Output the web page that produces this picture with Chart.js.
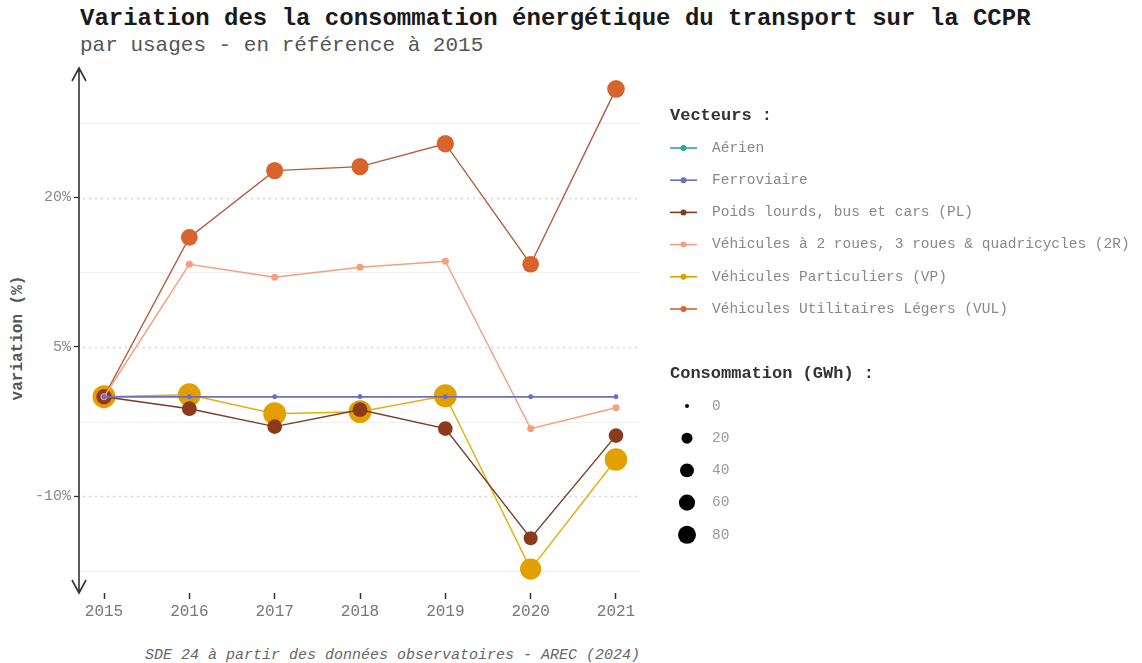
<!DOCTYPE html>
<html>
<head>
<meta charset="utf-8">
<script src="https://cdn.jsdelivr.net/npm/chart.js@4.4.1/dist/chart.umd.min.js"></script>
<style>
  html, body { margin: 0; padding: 0; background: #fff; }
  body { width: 1142px; height: 663px; position: relative; overflow: hidden; font-family: 'Courier New', 'Nimbus Mono PS', 'FreeMono', 'Liberation Mono', 'DejaVu Sans Mono', monospace; }
  #chart { position: absolute; left: 0; top: 0; }
  .txt { position: absolute; white-space: nowrap; }
  #title { left: 80px; top: 6px; font-size: 24px; line-height: 26px; font-weight: bold; color: #1a1a1a; }
  #subtitle { left: 80px; top: 34px; font-size: 21px; line-height: 24px; color: #555; }
  #caption { right: 502px; top: 647px; font-size: 15px; line-height: 18px; font-style: italic; color: #666; }
  #ytitle { left: 18px; top: 338px; font-size: 16px; font-weight: bold; color: #555; transform: translate(-50%, -50%) rotate(-90deg); }
</style>
</head>
<body>
<div class="txt" id="title">Variation des la consommation énergétique du transport sur la CCPR</div>
<div class="txt" id="subtitle">par usages - en référence à 2015</div>
<div class="txt" id="ytitle">variation (%)</div>
<div class="txt" id="caption">SDE 24 à partir des données observatoires - AREC (2024)</div>
<canvas id="chart" width="1142" height="663"></canvas>
<script>
// years
const years = [2015, 2016, 2017, 2018, 2019, 2020, 2021];

// variation vs 2015 (%)
const varAerien = [0, 0, 0, 0, 0, 0, 0];
const varFerro = [0, 0, 0, 0, 0, 0, 0];
const varPL = [0, -1.2, -3.0, -1.3, -3.2, -14.2, -3.9];
const var2R = [0, 13.3, 12.0, 13.0, 13.6, -3.2, -1.1];
const varVP = [0, 0.2, -1.7, -1.5, 0.1, -17.3, -6.3];
const varVUL = [0, 16.0, 22.7, 23.1, 25.4, 13.3, 30.9];

// consumption (GWh) -> point size
const consAerien = [0, 0, 0, 0, 0, 0, 0];
const consFerro = [0.3, 0.3, 0.3, 0.3, 0.3, 0.3, 0.3];
const consPL = [48, 47, 46, 47, 46, 41, 46];
const cons2R = [3.6, 4.1, 4.0, 4.1, 4.1, 3.5, 3.6];
const consVP = [147, 147, 145, 145, 147, 122, 138];
const consVUL = [58, 67, 71, 71, 73, 66, 76];

const seriesNames = [
    'Aérien',
    'Ferroviaire',
    'Poids lourds, bus et cars (PL)',
    'Véhicules à 2 roues, 3 roues & quadricycles (2R)',
    'Véhicules Particuliers (VP)',
    'Véhicules Utilitaires Légers (VUL)'
];
const pointColors = ['#2ca6a4', '#6a6fbf', '#8c3a1c', '#f4a07e', '#e2a000', '#d8632c'];
const lineColors = ['#2ca6a4', '#6a6fbf', '#7a3a26', '#f4a07e', '#e2ae10', '#b55a3c'];

const sizeBreaks = [0, 20, 40, 60, 80];
const yMajor = [-10, 5, 20];
const yMinor = [-17.5, -2.5, 12.5, 27.5];

function radiusFor(v) {
    return 2 + 7 * Math.sqrt(v / 80);
}

const seriesVar = [varAerien, varFerro, varPL, var2R, varVP, varVUL];
const seriesCons = [consAerien, consFerro, consPL, cons2R, consVP, consVUL];
const drawOrder = [2, 1, 4, 3, 6, 5];

const datasets = seriesNames.map((name, i) => ({
    label: name,
    data: years.map((y, j) => ({ x: y, y: seriesVar[i][j] })),
    borderColor: lineColors[i],
    backgroundColor: pointColors[i],
    pointBackgroundColor: pointColors[i],
    pointBorderWidth: 0,
    borderWidth: 1.4,
    pointRadius: (ctx) => radiusFor(seriesCons[i][ctx.dataIndex]),
    pointHoverRadius: (ctx) => radiusFor(seriesCons[i][ctx.dataIndex]),
    order: drawOrder[i],
}));

const MONO = "'Courier New', 'Nimbus Mono PS', 'FreeMono', 'Liberation Mono', 'DejaVu Sans Mono', monospace";

const plotDeco = {
    id: 'plotDeco',
    beforeDatasetsDraw(chart) {
        const { ctx, chartArea: a, scales: { y } } = chart;
        ctx.save();
        // minor grid
        ctx.strokeStyle = '#efefef';
        ctx.lineWidth = 1;
        yMinor.forEach((v) => {
            const py = Math.round(y.getPixelForValue(v)) + 0.5;
            ctx.beginPath();
            ctx.moveTo(a.left, py);
            ctx.lineTo(a.right, py);
            ctx.stroke();
        });
        // major grid, dotted
        ctx.strokeStyle = '#d4d4d4';
        ctx.lineWidth = 1.3;
        ctx.setLineDash([2, 4]);
        yMajor.forEach((v) => {
            const py = Math.round(y.getPixelForValue(v)) + 0.5;
            ctx.beginPath();
            ctx.moveTo(a.left + 4, py);
            ctx.lineTo(a.right, py);
            ctx.stroke();
        });
        ctx.setLineDash([]);
        // y axis with arrows
        const ax = a.left;
        ctx.strokeStyle = '#333';
        ctx.lineWidth = 1.6;
        ctx.beginPath();
        ctx.moveTo(ax, a.top);
        ctx.lineTo(ax, a.bottom);
        ctx.moveTo(ax - 7, a.top + 13);
        ctx.lineTo(ax, a.top);
        ctx.lineTo(ax + 7, a.top + 13);
        ctx.moveTo(ax - 7, a.bottom - 13);
        ctx.lineTo(ax, a.bottom);
        ctx.lineTo(ax + 7, a.bottom - 13);
        ctx.stroke();
        ctx.restore();
    },
    afterDraw(chart) {
        const { ctx } = chart;
        ctx.save();
        ctx.textBaseline = 'middle';
        ctx.textAlign = 'left';
        // Vecteurs legend
        ctx.fillStyle = '#333';
        ctx.font = 'bold 17px ' + MONO;
        ctx.fillText('Vecteurs :', 670, 116);
        ctx.font = '14.5px ' + MONO;
        seriesNames.forEach((name, i) => {
            const cy = 148 + i * 32.2;
            ctx.strokeStyle = pointColors[i];
            ctx.lineWidth = 1.6;
            ctx.beginPath();
            ctx.moveTo(670, cy);
            ctx.lineTo(697, cy);
            ctx.stroke();
            ctx.fillStyle = pointColors[i];
            ctx.beginPath();
            ctx.arc(683.5, cy, 3, 0, Math.PI * 2);
            ctx.fill();
            ctx.fillStyle = '#888';
            ctx.fillText(name, 712, cy);
        });
        // size legend
        ctx.fillStyle = '#333';
        ctx.font = 'bold 17px ' + MONO;
        ctx.fillText('Consommation (GWh) :', 670, 374);
        ctx.font = '14.5px ' + MONO;
        sizeBreaks.forEach((v, i) => {
            const cy = 406 + i * 32.2;
            ctx.fillStyle = '#000';
            ctx.beginPath();
            ctx.arc(687, cy, radiusFor(v), 0, Math.PI * 2);
            ctx.fill();
            ctx.fillStyle = '#999';
            ctx.fillText(String(v), 712, cy);
        });
        ctx.restore();
    }
};

new Chart(document.getElementById('chart').getContext('2d'), {
    type: 'line',
    data: { datasets: datasets },
    options: {
        animation: false,
        responsive: false,
        events: [],
        layout: { padding: { top: 68, right: 501, bottom: 0, left: 0 } },
        plugins: {
            legend: { display: false },
            tooltip: { enabled: false },
        },
        scales: {
            x: {
                type: 'linear',
                min: 2014.707,
                max: 2021.293,
                afterBuildTicks(scale) {
                    scale.ticks = years.map((y) => ({ value: y }));
                },
                afterFit(scale) { scale.height = 70; },
                border: { display: false },
                grid: {
                    drawOnChartArea: false,
                    drawTicks: true,
                    tickLength: 6,
                    tickColor: '#333',
                    tickWidth: 1.5,
                },
                ticks: {
                    color: '#777',
                    padding: 3,
                    maxRotation: 0,
                    font: { family: MONO, size: 16 },
                    callback: (v) => String(v),
                },
            },
            y: {
                min: -19.7,
                max: 33,
                afterBuildTicks(scale) {
                    scale.ticks = [...yMinor, ...yMajor].sort((a, b) => a - b).map((v) => ({ value: v }));
                },
                afterFit(scale) { scale.width = 79; },
                border: { display: false },
                grid: {
                    drawOnChartArea: false,
                    drawTicks: true,
                    tickLength: 5,
                    tickWidth: 1.3,
                    tickColor: (ctx) => (yMajor.includes(ctx.tick && ctx.tick.value) ? '#333' : 'rgba(0,0,0,0)'),
                },
                ticks: {
                    color: '#888',
                    padding: 3,
                    autoSkip: false,
                    font: { family: MONO, size: 15 },
                    callback: (v) => (yMajor.includes(v) ? v + '%' : ''),
                },
            },
        },
    },
    plugins: [plotDeco],
});
</script>
</body>
</html>
